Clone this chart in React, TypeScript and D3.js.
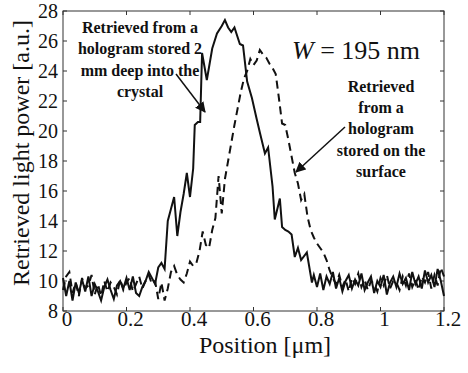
import React from "react";
import * as d3 from "d3";

const xTicks = [0, 0.2, 0.4, 0.6, 0.8, 1, 1.2];
const yTicks = [8, 10, 12, 14, 16, 18, 20, 22, 24, 26, 28];

const solidX = [
  0, 0.01, 0.02, 0.03, 0.04, 0.05, 0.06, 0.07, 0.08, 0.09, 0.1, 0.11, 0.12, 0.13, 0.14, 0.15, 0.16, 0.17, 0.18, 0.19,
  0.2, 0.21, 0.22, 0.23, 0.24, 0.25, 0.26, 0.27, 0.28, 0.29, 0.3, 0.31, 0.32, 0.33, 0.34, 0.35, 0.36, 0.37, 0.38, 0.39,
  0.4, 0.41, 0.415, 0.425, 0.432, 0.438, 0.453, 0.47, 0.485, 0.5, 0.51, 0.52, 0.53, 0.54, 0.557, 0.567, 0.58, 0.595,
  0.61, 0.62, 0.636, 0.646, 0.66, 0.667, 0.683, 0.69, 0.7, 0.71, 0.72, 0.73, 0.74, 0.75, 0.768, 0.784,
  0.79, 0.8, 0.81, 0.82, 0.83, 0.84, 0.85, 0.86, 0.87, 0.88, 0.89, 0.9, 0.91, 0.92, 0.93, 0.94, 0.95, 0.96, 0.97, 0.98,
  0.99, 1.0, 1.01, 1.02, 1.03, 1.04, 1.05, 1.06, 1.07, 1.08, 1.09, 1.1, 1.11, 1.12, 1.13, 1.14, 1.15, 1.16, 1.17, 1.18,
  1.19, 1.2,
];
const solidY = [
  10.2, 9.0, 10.0, 8.7, 9.9, 9.2, 10.1, 9.3, 10.3, 9.0, 9.8, 9.3, 8.7, 9.6, 10.1, 9.4, 8.8, 9.7, 10.0, 9.5,
  10.2, 9.4, 10.3, 9.2, 9.0, 9.6, 10.0, 10.6, 10.2, 9.8, 10.9, 11.2, 10.8, 14.0, 14.8, 15.6, 13.0, 14.6, 15.8, 17.2,
  15.6, 17.5, 20.4, 20.6, 20.6, 25.2, 23.4, 25.5, 26.5, 27.0, 27.4, 26.9, 26.6, 26.9, 25.8, 25.7, 23.3, 22.2,
  20.8, 19.9, 18.5, 18.9, 16.3, 14.1, 15.5, 13.6, 13.4, 13.3, 13.1, 11.6, 12.2, 11.4, 11.9, 9.9,
  10.4, 9.6, 10.5, 9.4, 10.3, 9.8, 10.6, 9.5, 10.2, 9.3, 10.0, 10.4, 9.5, 10.1, 9.7, 10.5, 9.4, 9.9, 10.3, 9.2,
  10.0, 9.6, 10.4, 9.1, 9.9, 10.3, 9.6, 10.5, 9.8, 10.2, 9.4, 10.6, 9.8, 10.3, 9.5, 10.7, 9.9, 10.4, 9.6, 10.8,
  10.0, 9.0,
];

const dashedX = [
  0, 0.01, 0.02, 0.03, 0.04, 0.05, 0.06, 0.07, 0.08, 0.09, 0.1, 0.11, 0.12, 0.13, 0.14, 0.15, 0.16, 0.17, 0.18, 0.19,
  0.2, 0.21, 0.22, 0.23, 0.24, 0.25, 0.26, 0.27, 0.28, 0.29, 0.3, 0.31, 0.32, 0.33, 0.34, 0.35, 0.36, 0.37, 0.38, 0.39,
  0.4, 0.41, 0.42, 0.43, 0.44, 0.45, 0.46, 0.47, 0.48, 0.49, 0.5, 0.51, 0.52, 0.53, 0.54, 0.55, 0.56, 0.57, 0.58, 0.59,
  0.6, 0.61, 0.62, 0.63, 0.64, 0.65, 0.66, 0.67, 0.68, 0.69, 0.7, 0.71, 0.72, 0.73, 0.74, 0.75, 0.76, 0.77, 0.78, 0.79,
  0.8, 0.81, 0.82, 0.83, 0.84, 0.85, 0.86, 0.87, 0.88, 0.89, 0.9, 0.91, 0.92, 0.93, 0.94, 0.95, 0.96, 0.97, 0.98, 0.99,
  1.0, 1.01, 1.02, 1.03, 1.04, 1.05, 1.06, 1.07, 1.08, 1.09, 1.1, 1.11, 1.12, 1.13, 1.14, 1.15, 1.16, 1.17, 1.18, 1.19,
  1.2,
];
const dashedY = [
  9.4, 10.3, 10.6, 9.2, 9.9, 9.0, 10.2, 9.5, 9.7, 10.4, 9.1, 9.8, 9.0, 10.0, 9.3, 9.9, 9.6, 9.1, 10.1, 9.4,
  9.9, 10.2, 9.3, 9.8, 10.3, 9.5, 10.0, 10.4, 9.8, 10.0, 8.8, 9.9, 8.7, 9.5, 10.6, 11.0, 10.4, 10.1, 9.9, 10.5,
  11.3, 11.0, 11.2, 12.0, 13.3, 12.4, 12.2, 13.4, 14.2, 17.0, 14.5, 16.8, 18.0, 19.2, 20.4, 21.5, 22.6, 23.5, 24.0, 24.8,
  24.4, 24.7, 25.4, 25.1, 24.9, 24.5, 24.2, 23.8, 22.2, 20.5, 20.4, 19.4, 18.3, 17.2, 16.5, 15.4, 15.8, 14.3, 13.4, 12.9,
  12.5, 12.2, 11.9, 11.4, 10.7, 10.2, 9.8, 10.4, 9.6, 10.1, 9.3, 10.2, 9.8, 10.5, 9.6, 10.1, 9.4, 10.0, 9.8, 9.3,
  10.2, 9.7, 10.4, 9.5, 10.0, 9.9, 9.4, 10.3, 9.7, 10.5, 9.6, 10.1, 9.4, 10.3, 9.9, 10.6, 9.5, 10.4, 9.7, 10.9,
  10.3,
];

const leftNote = ["Retrieved from a", "hologram stored 2", "mm deep into the", "crystal"];
const rightNote = ["Retrieved", "from a", "hologram", "stored on the", "surface"];

const L = 63, R = 444, T = 11, B = 311;
const ff = { fontFamily: "'Liberation Serif', 'Times New Roman', serif" };

export default function App() {
  const x = d3.scaleLinear().domain([0, 1.2]).range([L, R]);
  const y = d3.scaleLinear().domain([8, 28]).range([B, T]);
  const line = d3.line<[number, number]>().x((d) => x(d[0])).y((d) => y(d[1]));
  const solid = solidX.map((v, i) => [v, solidY[i]] as [number, number]);
  const dashed = dashedX.map((v, i) => [v, dashedY[i]] as [number, number]);
  const tk = 4;
  return (
    <svg width={468} height={373} style={{ position: "absolute", left: 0, top: 0, background: "#fff", ...ff }}>
      <defs>
        <marker id="ah" viewBox="0 0 10 10" refX="9" refY="5" markerWidth="7" markerHeight="7" orient="auto">
          <path d="M0,0 L10,5 L0,10 z" fill="#111" />
        </marker>
      </defs>
      <rect x={L} y={T} width={R - L} height={B - T} fill="none" stroke="#333" strokeWidth={1} />
      {xTicks.map((t) => (
        <g key={"x" + t}>
          <line x1={x(t)} x2={x(t)} y1={B} y2={B - tk} stroke="#333" />
          <line x1={x(t)} x2={x(t)} y1={T} y2={T + tk} stroke="#333" />
          <text x={x(t) + 4} y={326} textAnchor="middle" style={ff} fontSize={21} fill="#111">
            {String(t)}
          </text>
        </g>
      ))}
      {yTicks.map((t) => (
        <g key={"y" + t}>
          <line x1={L} x2={L + tk} y1={y(t)} y2={y(t)} stroke="#333" />
          <line x1={R} x2={R - tk} y1={y(t)} y2={y(t)} stroke="#333" />
          <text x={58} y={y(t) + 7} textAnchor="end" style={ff} fontSize={20} fill="#111">
            {String(t)}
          </text>
        </g>
      ))}
      <path d={line(dashed) || ""} fill="none" stroke="#111" strokeWidth={2} strokeDasharray="8,5" />
      <path d={line(solid) || ""} fill="none" stroke="#111" strokeWidth={2} />
      <text x={265} y={353} textAnchor="middle" style={ff} fontSize={24} fill="#111">
        Position [μm]
      </text>
      <text transform="translate(29,153) rotate(-90)" textAnchor="middle" style={ff} fontSize={24} fill="#111">
        Retrieved light power [a.u.]
      </text>
      {leftNote.map((s, i) => (
        <text key={s} x={140} y={33 + i * 21.4} textAnchor="middle" style={ff} fontSize={16} fontWeight="bold" fill="#111">
          {s}
        </text>
      ))}
      {rightNote.map((s, i) => (
        <text key={s} x={381} y={92 + i * 21.2} textAnchor="middle" style={ff} fontSize={16} fontWeight="bold" fill="#111">
          {s}
        </text>
      ))}
      <text x={292} y={59} style={ff} fontSize={26} fill="#111">
        <tspan fontStyle="italic">W</tspan> = 195 nm
      </text>
      <line x1={176} y1={74} x2={205} y2={112} stroke="#111" strokeWidth={1.5} markerEnd="url(#ah)" />
      <line x1={345} y1={127} x2={296} y2={172} stroke="#111" strokeWidth={1.5} markerEnd="url(#ah)" />
    </svg>
  );
}
